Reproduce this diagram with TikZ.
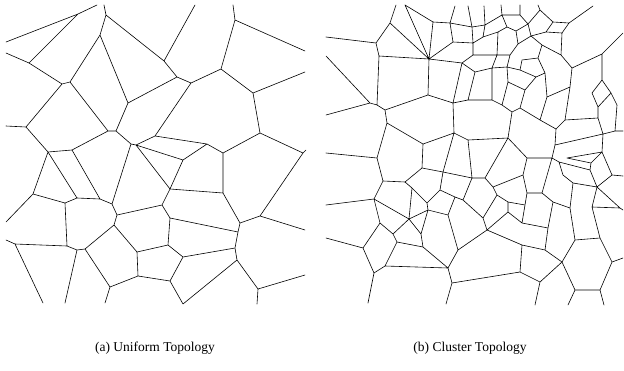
\documentclass[tikz,border=0pt]{standalone}
\usepackage{fontspec}
\setmainfont{Liberation Serif}
\usepackage{tikz}

\tikzset{
  cellwall/.style={draw=black, line width=0.6pt, line join=round, line cap=round},
  subcap/.style={font=\fontsize{13.5}{16}\selectfont, inner sep=0pt}
}

\begin{document}
\begin{tikzpicture}[x=1pt, y=-1pt]
\useasboundingbox (0,0) rectangle (624,370);

% (a) uniform
\begin{scope}
\draw[cellwall]
  (6,42)--(78,14)--(97,5) (78,14)--(29,63)
  (6,53)--(29,63)--(62,84)--(70,82)--(100,35)--(106,15)--(104,5)
  (106,15)--(164,61)--(195,5)
  (164,61)--(177,77)--(191,83)--(221,69)--(235,20)--(233,5)
  (235,20)--(305,51)
  (221,69)--(253,93)--(305,72)
  (253,93)--(260,133)--(303,153)
  (260,133)--(223,153)--(207,144)--(155,136)--(191,83)
  (100,35)--(128,103)--(177,77)
  (128,103)--(116,131)--(108,131)--(70,82)
  (62,84)--(26,127)--(6,126)
  (26,127)--(48,152)--(72,150)--(108,131)
  (116,131)--(131,144)--(136,145)--(155,136)
  (131,144)--(112,204)
  (136,145)--(183,160)--(207,144)
  (136,145)--(170,189)--(183,160)
  (170,189)--(162,205)--(117,215)
  (170,189)--(223,193)--(223,153)
  (162,205)--(170,218)--(238,232)
  (170,218)--(168,245)--(137,252)
  (168,245)--(183,257)--(235,248)
  (183,257)--(170,281)--(138,276)
  (170,281)--(183,304)
  (223,193)--(240,223)--(260,216)--(305,230)
  (260,216)--(303,153)--(306,150)
  (240,223)--(238,232)--(235,248)--(237,260)--(258,289)--(305,275)
  (258,289)--(257,304)
  (237,260)--(183,304)
  (48,152)--(33,194)--(6,222)
  (33,194)--(65,203)--(77,198)--(48,152)
  (77,198)--(100,199)--(72,150)
  (100,199)--(112,204)--(117,215)--(114,225)--(85,249)--(77,250)--(67,246)--(65,203)
  (67,246)--(15,244)--(6,240)
  (15,244)--(43,303)
  (77,250)--(65,303)
  (85,249)--(110,287)--(105,303)
  (110,287)--(138,276)--(137,252)--(114,225);
\end{scope}

% (b) cluster
\begin{scope}
\draw[cellwall]
  (326,37)--(376,43)--(390,23)--(396,5)
  (390,23)--(429,59)
  (376,43)--(379,56)--(429,59)
  (379,56)--(377,105)
  (326,56)--(370,103)--(326,115)
  (370,103)--(377,105)--(385,110)--(428,95)
  (385,110)--(387,123)--(423,144)--(422,168)--(405,182)--(383,181)--(377,158)--(387,123)
  (377,158)--(326,153)
  (383,181)--(374,199)--(326,205)
  (405,182)--(412,188)--(409,219)
  (412,188)--(427,203)--(440,190)
  (374,199)--(380,223)--(363,248)--(326,238)
  (374,199)--(409,219)
  (363,248)--(374,273)--(368,303)
  (374,273)--(385,266)--(448,268)
  (385,266)--(397,242)--(393,234)--(380,223)
  (393,234)--(409,219)--(421,234)--(423,247)--(397,242)
  (409,219)--(428,210)--(421,234)
  (428,210)--(427,203)
  (423,247)--(448,268)
  (428,210)--(448,215)--(455,197)
  (448,215)--(458,250)--(448,268)--(452,283)--(446,304)
  (452,283)--(520,272)--(522,245)--(487,230)--(458,250)
  (487,230)--(483,218)--(497,195)
  (483,218)--(463,200)
  (487,230)--(508,212)--(508,202)
  (508,212)--(522,223)
  % dense part
  (405,5)--(433,22) (405,5)--(429,59)
  (433,22)--(450,23)--(455,6)
  (433,22)--(429,59)
  (450,23)--(472,27)--(468,6)
  (450,23)--(453,42)--(429,59)
  (453,42)--(473,43)--(472,27)
  (472,27)--(485,25)--(484,6)
  (485,25)--(502,15)--(501,5)
  (485,25)--(483,37)--(473,43)
  (483,37)--(498,32)--(507,27)--(502,15)
  (498,32)--(497,55)--(473,55)--(473,43)
  (473,55)--(462,63)--(429,59)
  (462,63)--(453,103)--(428,95)--(429,59)
  (462,63)--(475,72)--(492,68)--(497,55)
  (475,72)--(468,100)--(453,103)
  (468,100)--(492,100)--(492,68)
  (492,100)--(502,105)--(512,112)--(520,108)
  (497,55)--(510,55)--(507,67)--(492,68)
  (502,15)--(520,15)--(520,5)
  (520,15)--(528,24)--(540,10)--(538,5)
  (540,10)--(553,22)--(569,23)--(593,6)
  (553,22)--(546,32)--(562,33)--(569,23)
  (528,24)--(531,36)--(546,32)
  (507,27)--(516,31)--(528,24)
  (516,31)--(518,44)--(531,36)
  (518,44)--(510,55)
  (531,36)--(542,45)--(561,55)--(562,33)
  (542,45)--(538,58)--(522,60)--(520,70)--(507,67)
  (538,58)--(545,73)--(536,77)--(520,70)
  (545,73)--(547,97)--(570,87)--(572,68)--(561,55)
  (547,97)--(540,120)
  (520,108)--(540,120)--(556,129)
  (502,105)--(508,82)--(507,67)
  (508,82)--(525,90)--(536,77)
  (525,90)--(520,108)
  % middle
  (453,103)--(454,133)--(423,144)
  (454,133)--(468,140)--(508,138)--(512,112)
  (508,138)--(527,158)
  (508,138)--(485,178)--(472,178)--(468,140)
  (454,133)--(443,172)--(422,168)
  (443,172)--(472,178)
  (443,172)--(440,190)--(455,197)--(463,200)--(472,178)
  (485,178)--(493,187)--(523,175)
  (493,187)--(497,195)--(508,202)--(525,205)
  % right side
  (572,68)--(602,54)--(623,33)
  (602,54)--(602,80)--(592,93)--(598,107)--(611,93)--(602,80)
  (611,93)--(617,105)--(615,131)--(623,131)
  (598,107)--(598,118)--(603,134)--(615,131)
  (570,87)--(565,120)--(598,118)
  (565,120)--(556,129)--(555,145)--(603,134)
  (555,145)--(552,158)--(527,158)
  (603,134)--(602,152)--(612,175)--(623,176)
  (612,175)--(597,187)
  (602,152)--(591,163)--(567,158)--(602,152)
  (591,163)--(590,170)--(559,162)--(552,158)
  (559,162)--(563,175)--(573,183)--(597,187)--(590,170)
  (597,187)--(592,207)--(620,208)--(597,187)
  (620,208)--(623,210)
  (573,183)--(570,208)
  (552,158)--(542,193)--(527,193)--(523,175)--(527,158)
  (527,193)--(525,205)--(522,223)
  (542,193)--(553,202)--(570,208)
  (553,202)--(548,228)
  % lower right
  (522,223)--(548,228)
  (548,228)--(545,250)--(522,245)
  (545,250)--(562,262)--(540,282)--(520,272)
  (540,282)--(535,305)
  (570,208)--(575,240)--(562,262)
  (575,240)--(600,238)--(592,207)
  (600,238)--(612,262)--(623,258)
  (612,262)--(600,290)--(575,290)--(562,262)
  (600,290)--(604,305)
  (575,290)--(568,305);
\end{scope}

\node[subcap] (capA) at (155,348) {(a) Uniform Topology};
\node[subcap] (capB) at (470,348) {(b) Cluster Topology};
\end{tikzpicture}
\end{document}
